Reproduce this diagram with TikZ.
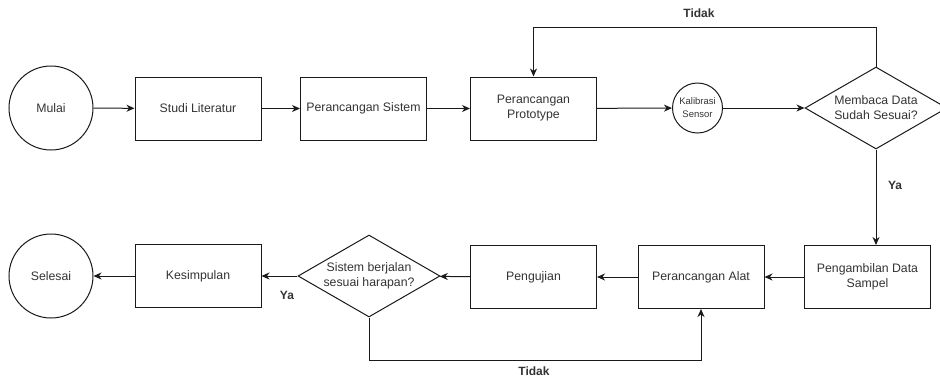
\documentclass[tikz,border=0pt]{standalone}
\usepackage{fontspec}
\setmainfont{Liberation Sans}
\usetikzlibrary{shapes.geometric,arrows.meta}
\definecolor{txt}{HTML}{333333}
\definecolor{ln}{HTML}{1A1A1A}
\begin{document}
\begin{tikzpicture}[x=1pt,y=-1pt,
  every node/.style={font=\fontsize{12.3}{15}\selectfont, text=txt},
  proc/.style={draw=ln, line width=1pt, minimum width=126pt, minimum height=63pt, inner sep=0pt, align=center},
  term/.style={draw=ln, line width=1pt, circle, minimum size=84pt, inner sep=0pt, align=center},
  dec/.style={draw=ln, line width=1pt, diamond, aspect=1.75, minimum width=142pt, minimum height=82pt, inner sep=0pt, align=center},
  arr/.style={draw=ln, line width=1pt, -{Stealth[length=8pt,width=7pt,inset=2.5pt]}},
  lbl/.style={font=\bfseries\fontsize{12}{14}\selectfont, text=txt}
]
\useasboundingbox (0,0) rectangle (940,376);
% top row
\node[term] (mulai) at (51,108) {Mulai};
\node[proc] (studi) at (198,108.5) {Studi Literatur};
\node[proc] (sistem) at (363.5,108.5) {Perancangan Sistem};
\node[proc] (proto) at (533.5,108.5) {Perancangan\\Prototype};
\node[draw=ln, line width=1pt, circle, minimum size=50pt, inner sep=0pt, align=center,
      font=\fontsize{9.5}{13}\selectfont] (kal) at (697.5,108) {Kalibrasi\\Sensor};
\node[dec] (baca) at (876,108) {Membaca Data\\Sudah Sesuai?};
% bottom row
\node[term] (selesai) at (51,276) {Selesai};
\node[proc] (kes) at (198,276) {Kesimpulan};
\node[dec] (cek) at (369,276) {Sistem berjalan\\sesuai harapan?};
\node[proc] (uji) at (533.5,277) {Pengujian};
\node[proc] (alat) at (701,277) {Perancangan Alat};
\node[proc] (ambil) at (867.5,277) {Pengambilan Data\\Sampel};
% connectors
\draw[arr] (mulai) -- (studi);
\draw[arr] (studi) -- (sistem);
\draw[arr] (sistem) -- (proto);
\draw[arr] (proto) -- (kal);
\draw[arr] (kal) -- (baca);
\coordinate (topy) at (0,27);
\draw[arr] (baca.north) -- (baca.north |- topy) -| (proto.north);
\node[lbl] (t1) at (699,13) {Tidak};
\draw[arr] (baca.south) -- (baca.south |- ambil.north);
\node[lbl] (y1) at (895,185) {Ya};
\draw[arr] (ambil) -- (alat);
\draw[arr] (alat) -- (uji);
\draw[arr] (uji) -- (cek);
\draw[arr] (cek) -- (kes);
\node[lbl] (y2) at (287,295) {Ya};
\draw[arr] (kes) -- (selesai);
\coordinate (boty) at (0,360);
\draw[arr] (cek.south) -- (cek.south |- boty) -| (alat.south);
\node[lbl] (t2) at (534,371) {Tidak};
\end{tikzpicture}
\end{document}
